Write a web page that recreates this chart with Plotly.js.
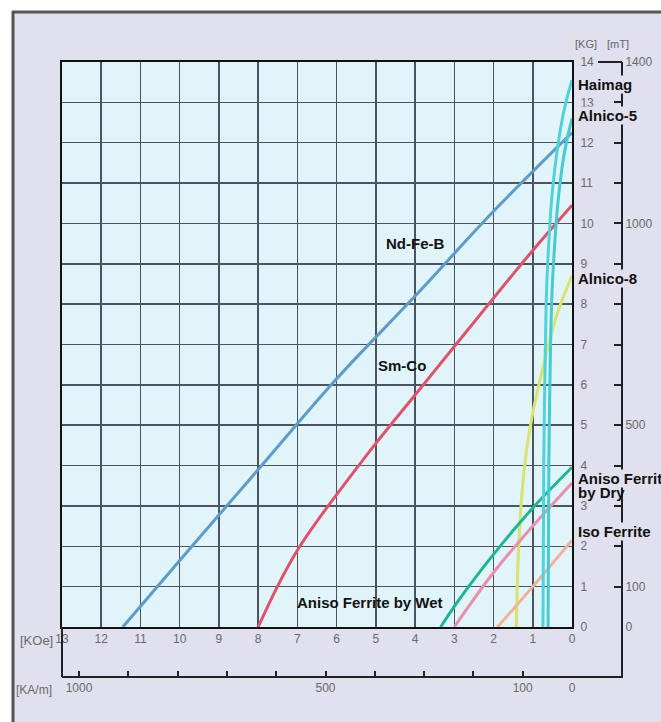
<!DOCTYPE html>
<html>
<head>
<meta charset="utf-8">
<script src="https://cdn.plot.ly/plotly-3.0.1.min.js"></script>
<style>html,body{margin:0;padding:0;background:#fff;}#chart{width:661px;height:722px;}</style>
</head>
<body>
<div id="chart"></div>
<script>
// Demagnetization curves: H in kOe (x, reversed), B in kG (y)
const ndfebH   = [11.45, 10, 8, 6, 4, 2, 0];
const ndfebB   = [0, 1.65, 3.9, 6.15, 8.2, 10.3, 12.25];
const smcoH    = [8.0, 7.5, 7.0, 6.5, 6.0, 5.0, 4.0, 3.0, 2.0, 1.0, 0];
const smcoB    = [0, 1.02, 1.9, 2.62, 3.28, 4.55, 5.75, 6.95, 8.15, 9.33, 10.45];
const haimagH  = [0.74, 0.72, 0.66, 0.61, 0.5, 0.35, 0.18, 0];
const haimagB  = [0, 4, 8, 9.2, 10.8, 12.0, 12.9, 13.55];
const alnico5H = [0.61, 0.59, 0.52, 0.46, 0.36, 0.22, 0.1, 0];
const alnico5B = [0, 4, 8, 9.2, 10.5, 11.6, 12.2, 12.6];
const alnico8H = [1.42, 1.38, 1.3, 1.17, 0.98, 0.72, 0.4, 0];
const alnico8B = [0, 1.5, 3.0, 4.3, 5.4, 6.5, 7.7, 8.7];
const wetH     = [3.35, 2.9, 2.0, 1.0, 0];
const wetB     = [0, 0.65, 1.8, 2.95, 3.96];
const dryH     = [3.0, 2.0, 1.0, 0];
const dryB     = [0, 1.35, 2.5, 3.57];
const isoH     = [1.9, 1.0, 0];
const isoB     = [0, 1.0, 2.15];

// Axis tick labels
const kOeTicks = [13,12,11,10,9,8,7,6,5,4,3,2,1,0];
const kGTicks  = [0,1,2,3,4,5,6,7,8,9,10,11,12,13,14];
const kAmTickVals = [0,100,200,300,400,500,600,700,800,900,1000];
const kAmTickText = ['0','100','','','','500','','','','','1000'];
const mTTickVals = [0,100,200,300,400,500,600,700,800,900,1000,1100,1200,1300,1400];
const mTTickText = ['0','100','','','','500','','','','','1000','','','','1400'];

const KAM_PER_KOE = 79.577;

function curve(x, y, color) {
  return {x: x, y: y, mode: 'lines', type: 'scatter', hoverinfo: 'skip', showlegend: false,
          line: {color: color, width: 3, shape: 'spline', smoothing: 1}};
}

const traces = [
  curve(ndfebH, ndfebB, '#5b9ccb'),
  curve(smcoH, smcoB, '#e0526b'),
  curve(alnico8H, alnico8B, '#d9e36e'),
  curve(isoH, isoB, '#f2b29a'),
  curve(dryH, dryB, '#ea8fae'),
  curve(wetH, wetB, '#1db597'),
  curve(haimagH, haimagB, '#4fd3da'),
  curve(alnico5H, alnico5B, '#45cbd2'),
  // invisible carriers so the kA/m and mT scales are drawn
  {x: [0], y: [0], xaxis: 'x2', yaxis: 'y', mode: 'markers', marker: {opacity: 0}, hoverinfo: 'skip', showlegend: false},
  {x: [0], y: [0], xaxis: 'x', yaxis: 'y2', mode: 'markers', marker: {opacity: 0}, hoverinfo: 'skip', showlegend: false}
];

// geometry helpers (pixel -> paper)
const L = 62, R = 20, T = 62, B = 30, W = 661 - L - R, H = 722 - T - B;
const px = v => (v - L) / W;
const py = v => (722 - B - v) / H;

const gridC = '#4a555f';
const FAM = 'Liberation Sans, Arial, sans-serif';
const tickFont = {family: FAM, size: 12, color: '#6a6a6a'};
const labFont = {family: FAM, size: 15, color: '#111', weight: 'bold'};

function outLabel(x, y, text, bg) {
  const a = {xref: 'paper', yref: 'paper', x: px(x), y: py(y), xanchor: 'left', yanchor: 'middle',
             text: text, showarrow: false, font: labFont, borderpad: 0};
  if (bg) a.bgcolor = '#e0e0ee';
  return a;
}

const layout = {
  width: 661, height: 722,
  margin: {l: L, r: R, t: T, b: B, pad: 0},
  paper_bgcolor: '#e0e0ee',
  plot_bgcolor: '#e0f4fa',
  showlegend: false,
  xaxis: {
    domain: [0, px(572)], range: [13, 0], tickvals: kOeTicks,
    showgrid: true, gridcolor: gridC, gridwidth: 1.5, zeroline: false,
    showline: true, linecolor: '#111', linewidth: 2, mirror: true,
    ticks: '', tickfont: tickFont, anchor: 'y', fixedrange: true
  },
  yaxis: {
    domain: [py(627), 1], range: [0, 14], tickvals: kGTicks, side: 'right',
    showgrid: true, gridcolor: gridC, gridwidth: 1.5, zeroline: false,
    showline: true, linecolor: '#111', linewidth: 2, mirror: true,
    ticks: '', ticklabelstandoff: 4, tickfont: tickFont, anchor: 'x', fixedrange: true
  },
  xaxis2: {
    overlaying: 'x', anchor: 'free', position: py(677), side: 'bottom',
    range: [13 * KAM_PER_KOE, 0], tickvals: kAmTickVals, ticktext: kAmTickText,
    showgrid: false, zeroline: false, showline: true, linecolor: '#222', linewidth: 2,
    ticks: 'inside', ticklen: 5, tickwidth: 2, tickcolor: '#222', tickfont: tickFont, fixedrange: true
  },
  yaxis2: {
    overlaying: 'y', anchor: 'free', position: px(622), side: 'right',
    range: [0, 1400], tickvals: mTTickVals, ticktext: mTTickText,
    showgrid: false, zeroline: false, showline: true, linecolor: '#222', linewidth: 2,
    ticks: 'inside', ticklen: 7, tickwidth: 2, tickcolor: '#222', tickfont: tickFont, fixedrange: true
  },
  shapes: [
    {type: 'rect', xref: 'paper', yref: 'paper', x0: px(-5), x1: px(700), y0: py(11), y1: py(-5), fillcolor: '#ffffff', line: {width: 0}, layer: 'below'},
    {type: 'rect', xref: 'paper', yref: 'paper', x0: px(-5), x1: px(12), y0: py(760), y1: py(-5), fillcolor: '#ffffff', line: {width: 0}, layer: 'below'},
    {type: 'line', xref: 'paper', yref: 'paper', x0: px(13), x1: px(13), y0: py(760), y1: py(11), line: {color: '#555', width: 3}},
    {type: 'line', xref: 'paper', yref: 'paper', x0: px(12), x1: px(700), y0: py(12), y1: py(12), line: {color: '#555', width: 3}},
    {type: 'line', xref: 'paper', yref: 'paper', x0: 0, x1: 0, y0: py(627), y1: py(677), line: {color: '#222', width: 2}},
    {type: 'line', xref: 'paper', yref: 'paper', x0: px(572), x1: px(623), y0: py(677), y1: py(677), line: {color: '#222', width: 2}},
    {type: 'line', xref: 'paper', yref: 'paper', x0: px(622), x1: px(622), y0: py(626), y1: py(678), line: {color: '#222', width: 2}},
    {type: 'line', xref: 'paper', yref: 'paper', x0: px(598), x1: px(622), y0: 1, y1: 1, line: {color: '#222', width: 2}}
  ],
  annotations: [
    {xref: 'paper', yref: 'paper', x: px(586), y: py(44), xanchor: 'center', yanchor: 'middle', text: '[KG]', showarrow: false, font: {family: FAM, size: 11, color: '#666'}},
    {xref: 'paper', yref: 'paper', x: px(618), y: py(44), xanchor: 'center', yanchor: 'middle', text: '[mT]', showarrow: false, font: {family: FAM, size: 11, color: '#666'}},
    {xref: 'paper', yref: 'paper', x: px(55), y: py(640), xanchor: 'right', yanchor: 'middle', text: '[KOe]', showarrow: false, font: {family: FAM, size: 13, color: '#6a6a6a'}},
    {xref: 'paper', yref: 'paper', x: px(14), y: py(690), xanchor: 'left', yanchor: 'middle', text: '[KA/m]', showarrow: false, font: tickFont},
    outLabel(577, 85, 'Haimag', true),
    outLabel(577, 115, 'Alnico-5', true),
    outLabel(577, 278, 'Alnico-8', true),
    outLabel(577, 478, 'Aniso Ferrite', true),
    outLabel(577, 492, 'by Dry', false),
    outLabel(577, 531, 'Iso Ferrite', true),
    {xref: 'x', yref: 'y', x: 4.0, y: 9.51, xanchor: 'center', yanchor: 'middle', text: 'Nd-Fe-B', showarrow: false, font: labFont},
    {xref: 'x', yref: 'y', x: 4.34, y: 6.49, xanchor: 'center', yanchor: 'middle', text: 'Sm-Co', showarrow: false, font: labFont},
    {xref: 'x', yref: 'y', x: 5.15, y: 0.6, xanchor: 'center', yanchor: 'middle', text: 'Aniso Ferrite by Wet', showarrow: false, font: labFont}
  ]
};

Plotly.newPlot('chart', traces, layout, {staticPlot: true, displayModeBar: false});
</script>
</body>
</html>
